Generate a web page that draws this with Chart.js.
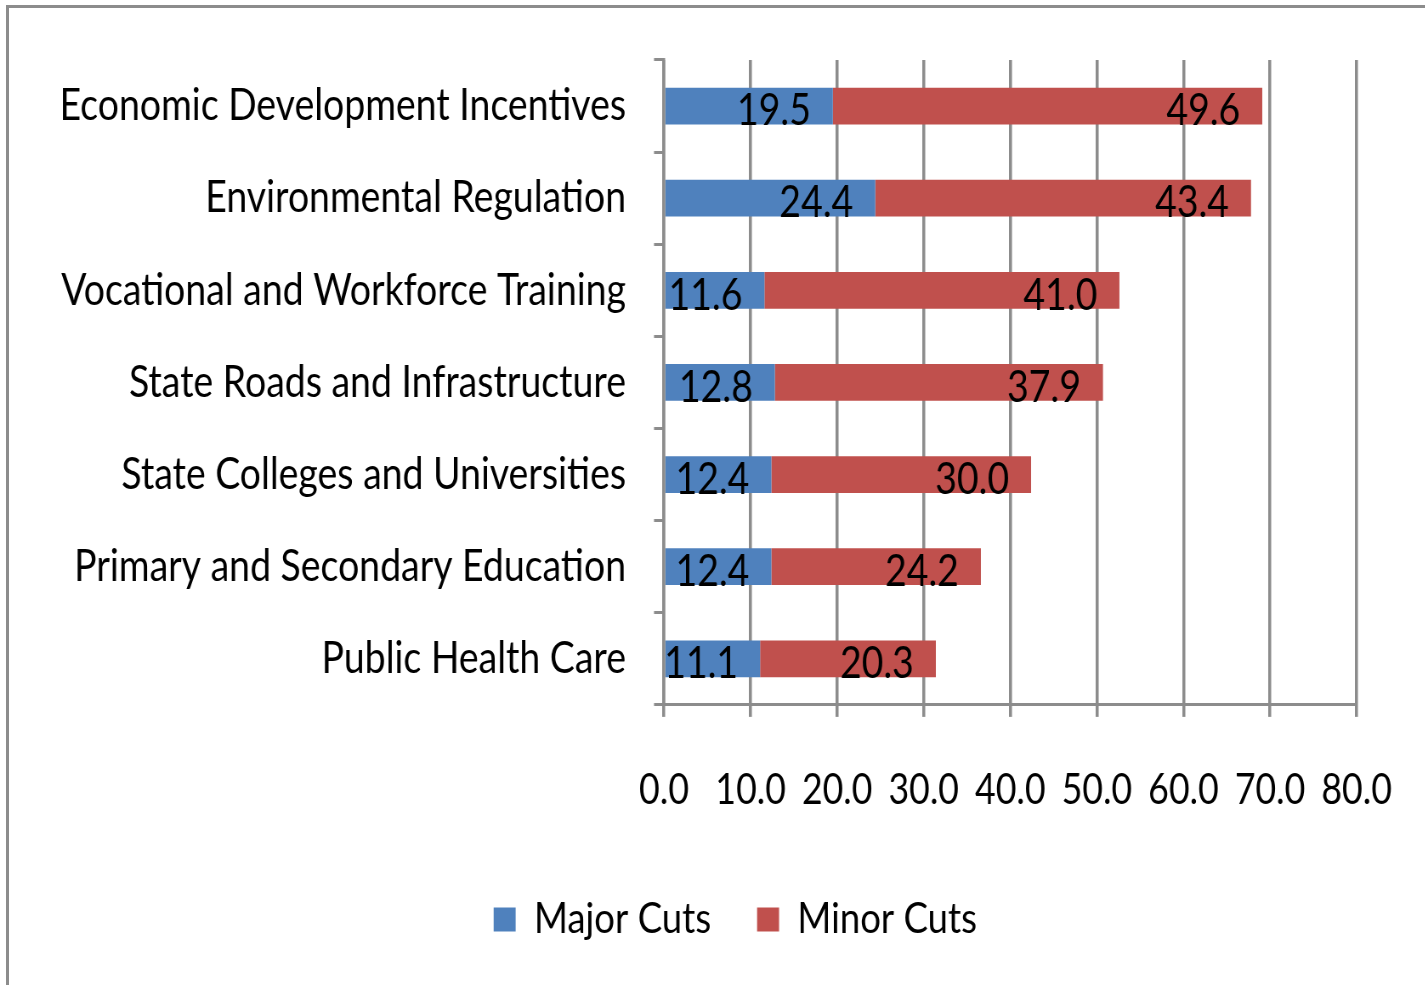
<!DOCTYPE html>
<html>
<head>
<meta charset="utf-8">
<script src="https://cdn.jsdelivr.net/npm/chart.js@4"></script>
<style>
  html, body { margin: 0; padding: 0; background: #fff; overflow: hidden; }
  #wrap { position: absolute; left: 0; top: 0; width: 1425px; height: 985px; overflow: hidden; }
  #c { position: absolute; left: 0; top: 0; transform-origin: 0 0; }
  #frame { position: absolute; left: 6px; top: 5px; width: 1440px; height: 1000px; border: 3px solid #8c8c8c; box-sizing: border-box; pointer-events: none; }
</style>
</head>
<body>
<div id="wrap">
  <canvas id="c"></canvas>
  <div id="frame"></div>
</div>
<script>
const categories = [
  "Economic Development Incentives",
  "Environmental Regulation",
  "Vocational and Workforce Training",
  "State Roads and Infrastructure",
  "State Colleges and Universities",
  "Primary and Secondary Education",
  "Public Health Care"
];
const majorCuts = [19.5, 24.4, 11.6, 12.8, 12.4, 12.4, 11.1];
const minorCuts = [49.6, 43.4, 41.0, 37.9, 30.0, 24.2, 20.3];
const seriesNames = ["Major Cuts", "Minor Cuts"];
const xTicks = [0, 10, 20, 30, 40, 50, 60, 70, 80];

// horizontal condensing factor (the reference uses a narrow typeface)
const SX = 0.85;
const W = Math.round(1425 / SX), H = 985;
const cv = document.getElementById('c');
cv.width = W; cv.height = H;
cv.style.transform = 'scaleX(' + SX + ')';

const FONT = "Lato, 'Liberation Sans', sans-serif";
const GRID = '#8c8c8c';

const labelPlugin = {
  id: 'barLabels',
  afterLayout(chart) {
    // the reference legend sits a little right of centre
    const dx = 57 / SX;
    chart.legend.left += dx;
    chart.legend.right += dx;
  },
  afterDatasetsDraw(chart) {
    const ctx = chart.ctx;
    ctx.save();
    ctx.font = '44px ' + FONT;
    ctx.fillStyle = '#000';
    ctx.textAlign = 'right';
    ctx.textBaseline = 'middle';
    chart.data.datasets.forEach((ds, di) => {
      const meta = chart.getDatasetMeta(di);
      meta.data.forEach((bar, i) => {
        const v = ds.data[i];
        ctx.fillText(v.toFixed(1), bar.x - 22 / SX, bar.y + 5);
      });
    });
    ctx.restore();
  }
};

new Chart(cv, {
  type: 'bar',
  data: {
    labels: categories,
    datasets: [
      { label: seriesNames[0], data: majorCuts, backgroundColor: '#4F81BD', borderWidth: 0, categoryPercentage: 1, barPercentage: 0.4 },
      { label: seriesNames[1], data: minorCuts, backgroundColor: '#C0504D', borderWidth: 0, categoryPercentage: 1, barPercentage: 0.4 }
    ]
  },
  options: {
    indexAxis: 'y',
    responsive: false,
    animation: false,
    layout: { padding: { top: 60, right: 68 / SX, bottom: 34, left: 0 } },
    scales: {
      x: {
        stacked: true,
        min: 0, max: 80,
        afterBuildTicks(s) { s.ticks = xTicks.map(v => ({ value: v })); },
        afterFit(s) { s.height = 139; s.paddingRight = 0; s.paddingLeft = 0; },
        ticks: {
          font: { size: 42, family: FONT },
          color: '#000',
          padding: 48,
          maxRotation: 0,
          autoSkip: false,
          callback: v => Number(v).toFixed(1)
        },
        grid: { color: GRID, lineWidth: 3 / SX, tickLength: 12, drawTicks: true },
        border: { display: true, color: GRID, width: 3 }
      },
      y: {
        stacked: true,
        afterFit(s) { s.width = 664 / SX; },
        ticks: {
          font: { size: 44, family: FONT },
          color: '#000',
          padding: 28 / SX
        },
        grid: { drawOnChartArea: false, color: GRID, lineWidth: 3, tickLength: 10 / SX, offset: true },
        border: { display: true, color: GRID, width: 3 / SX }
      }
    },
    plugins: {
      legend: {
        position: 'bottom',
        labels: {
          font: { size: 43, family: FONT },
          color: '#000',
          boxWidth: 22 / SX,
          boxHeight: 24,
          padding: 46 / SX
        }
      },
      tooltip: { enabled: false }
    }
  },
  plugins: [labelPlugin]
});
</script>
</body>
</html>
